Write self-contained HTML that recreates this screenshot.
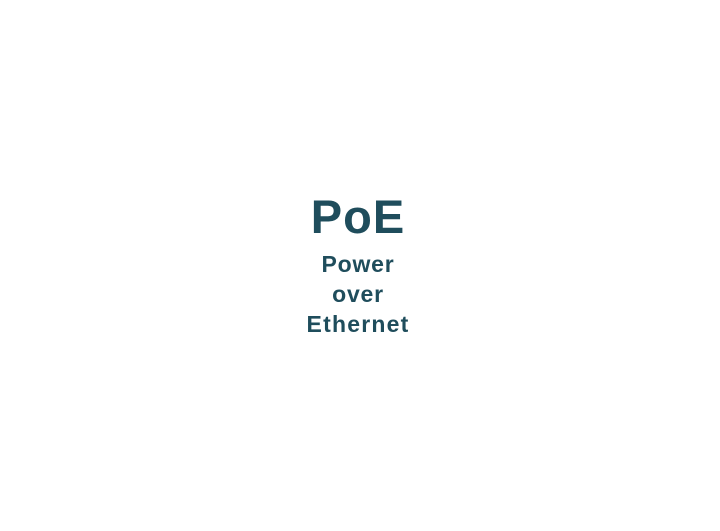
<!DOCTYPE html>
<html><head><style>
html,body{margin:0;padding:0;background:#fff;width:720px;height:531px;overflow:hidden}
</style></head><body>
<svg width="720" height="531" xmlns="http://www.w3.org/2000/svg">
<g font-family="Liberation Sans, sans-serif" font-weight="bold" fill="#1f4d5c" text-anchor="middle">
<text x="358" y="233" font-size="47" letter-spacing="1">PoE</text>
<text x="358" y="272" font-size="23" letter-spacing="0.8">Power</text>
<text x="358" y="302" font-size="23" letter-spacing="0.8">over</text>
<text x="358" y="332" font-size="23" letter-spacing="1.2">Ethernet</text>
</g>
</svg>
</body></html>
